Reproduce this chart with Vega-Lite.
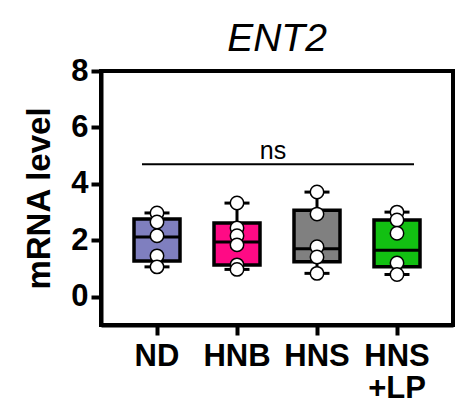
{
  "$schema": "https://vega.github.io/schema/vega-lite/v6.json",
  "width": 352,
  "height": 254,
  "autosize": {"type": "none"},
  "padding": {"left": 101, "top": 71, "right": 13, "bottom": 80},
  "background": "white",
  "title": {
    "text": "ENT2",
    "font": "Liberation Sans",
    "fontSize": 39,
    "fontStyle": "italic",
    "fontWeight": "normal",
    "color": "black",
    "anchor": "middle",
    "frame": "group",
    "baseline": "bottom",
    "offset": 4,
    "dy": 47
  },
  "datasets": {
    "summary": [
      {"group": "ND", "min": 1.06, "q1": 1.27, "median": 2.12, "q3": 2.76, "max": 2.97},
      {"group": "HNB", "min": 0.97, "q1": 1.13, "median": 1.94, "q3": 2.61, "max": 3.32},
      {"group": "HNS", "min": 0.83, "q1": 1.24, "median": 1.70, "q3": 3.07, "max": 3.71},
      {"group": "HNS+LP", "min": 0.79, "q1": 1.06, "median": 1.65, "q3": 2.72, "max": 3.0}
    ],
    "points": [
      {"group": "ND", "value": 2.97},
      {"group": "ND", "value": 2.65},
      {"group": "ND", "value": 2.16},
      {"group": "ND", "value": 1.45},
      {"group": "ND", "value": 1.06},
      {"group": "HNB", "value": 3.32},
      {"group": "HNB", "value": 2.44},
      {"group": "HNB", "value": 2.16},
      {"group": "HNB", "value": 1.84},
      {"group": "HNB", "value": 1.13},
      {"group": "HNB", "value": 0.97},
      {"group": "HNS", "value": 3.71},
      {"group": "HNS", "value": 2.93},
      {"group": "HNS", "value": 1.77},
      {"group": "HNS", "value": 1.41},
      {"group": "HNS", "value": 0.83},
      {"group": "HNS+LP", "value": 3.0},
      {"group": "HNS+LP", "value": 2.72},
      {"group": "HNS+LP", "value": 2.25},
      {"group": "HNS+LP", "value": 1.2},
      {"group": "HNS+LP", "value": 0.79}
    ],
    "stats": [
      {"from": "ND", "to": "HNS+LP", "at": "HNS", "y": 4.7, "label": "ns"}
    ]
  },
  "encoding": {
    "x": {
      "field": "group",
      "type": "nominal",
      "sort": ["ND", "HNB", "HNS", "HNS+LP"],
      "scale": {
        "domain": ["ND", "HNB", "HNS", "HNS+LP"],
        "paddingInner": 0,
        "paddingOuter": 0.2
      },
      "axis": {
        "title": null,
        "labelAngle": 0,
        "labelPadding": 6,
        "labelLineHeight": 32,
        "labelBaseline": "top",
        "labelExpr": "datum.label == 'HNS+LP' ? ['HNS', '+LP'] : datum.label"
      }
    }
  },
  "layer": [
    {
      "data": {"name": "summary"},
      "mark": {"type": "rule", "color": "black", "strokeWidth": 3},
      "encoding": {
        "y": {
          "field": "min",
          "type": "quantitative",
          "scale": {"domain": [-1, 8], "nice": false, "zero": false},
          "axis": {
            "title": "mRNA level",
            "values": [0, 2, 4, 6, 8],
            "titleFont": "Liberation Sans",
            "titleFontSize": 33,
            "titleFontWeight": "bold",
            "titleColor": "black",
            "titlePadding": 14
          }
        },
        "y2": {"field": "max"}
      }
    },
    {
      "data": {"name": "summary"},
      "mark": {"type": "tick", "color": "black", "size": 25, "thickness": 3, "opacity": 1},
      "encoding": {"y": {"field": "min", "type": "quantitative"}}
    },
    {
      "data": {"name": "summary"},
      "mark": {"type": "tick", "color": "black", "size": 25, "thickness": 3, "opacity": 1},
      "encoding": {"y": {"field": "max", "type": "quantitative"}}
    },
    {
      "data": {"name": "summary"},
      "mark": {"type": "bar", "size": 46, "stroke": "black", "strokeWidth": 3.5, "opacity": 1},
      "encoding": {
        "y": {"field": "q1", "type": "quantitative"},
        "y2": {"field": "q3"},
        "fill": {
          "field": "group",
          "type": "nominal",
          "scale": {
            "domain": ["ND", "HNB", "HNS", "HNS+LP"],
            "range": ["#7f7fbf", "#ff0a85", "#808080", "#12c012"]
          },
          "legend": null
        }
      }
    },
    {
      "data": {"name": "summary"},
      "mark": {"type": "tick", "color": "black", "size": 46, "thickness": 3, "opacity": 1},
      "encoding": {"y": {"field": "median", "type": "quantitative"}}
    },
    {
      "data": {"name": "points"},
      "mark": {"type": "point", "shape": "circle", "filled": true, "fill": "white", "stroke": "black", "strokeWidth": 1.5, "size": 180, "opacity": 1},
      "encoding": {"y": {"field": "value", "type": "quantitative"}}
    },
    {
      "data": {"name": "stats"},
      "mark": {"type": "rule", "color": "black", "strokeWidth": 2, "xOffset": -15, "x2Offset": 17},
      "encoding": {
        "x": {"field": "from", "type": "nominal"},
        "x2": {"field": "to"},
        "y": {"field": "y", "type": "quantitative"}
      }
    },
    {
      "data": {"name": "stats"},
      "mark": {"type": "text", "font": "Liberation Sans", "fontSize": 25, "color": "black", "baseline": "alphabetic", "align": "center", "dx": -4, "dy": -5},
      "encoding": {
        "x": {"field": "at", "type": "nominal", "bandPosition": 0},
        "y": {"field": "y", "type": "quantitative"},
        "text": {"field": "label"}
      }
    }
  ],
  "config": {
    "view": {"stroke": "black", "strokeWidth": 4},
    "axis": {
      "grid": false,
      "domainColor": "black",
      "domainWidth": 4,
      "tickColor": "black",
      "tickWidth": 4,
      "tickSize": 10,
      "labelFont": "Liberation Sans",
      "labelFontSize": 31,
      "labelFontWeight": "bold",
      "labelColor": "black",
      "labelPadding": 3
    }
  }
}
